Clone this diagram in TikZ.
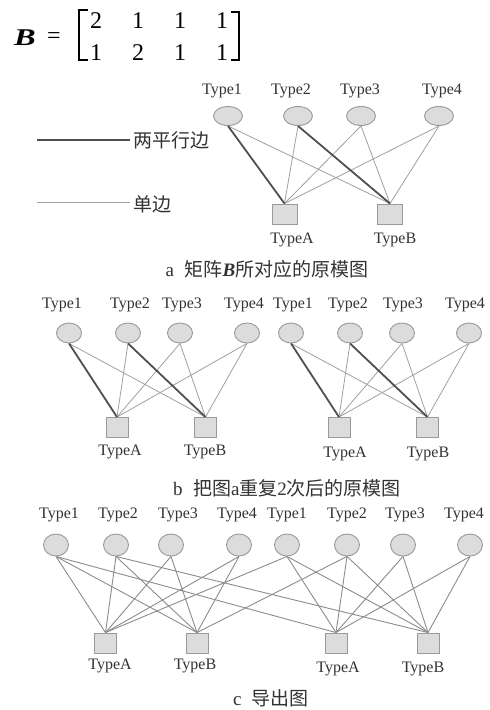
\documentclass[tikz,border=0pt]{standalone}
\usepackage{fontspec}
\setmainfont{Liberation Serif}
\newfontfamily\cjk{Noto Sans CJK SC}
\usetikzlibrary{shapes.geometric}
\definecolor{nfill}{HTML}{DCDCDC}
\definecolor{ndraw}{HTML}{9A9A9A}
\definecolor{thinc}{HTML}{A0A0A0}
\definecolor{thickc}{HTML}{505050}
\definecolor{cedge}{HTML}{8C8C8C}
\definecolor{txt}{HTML}{333333}
\tikzset{
  vn/.style={ellipse, draw=ndraw, fill=nfill, line width=0.9pt, inner sep=0pt},
  vna/.style={vn, minimum width=29pt, minimum height=19pt},
  vnb/.style={vn, minimum width=25pt, minimum height=20pt},
  vnc/.style={vn, minimum width=25pt, minimum height=22pt},
  sq/.style={rectangle, draw=ndraw, fill=nfill, line width=0.9pt, inner sep=0pt, minimum width=22pt, minimum height=20pt},
  sqa/.style={sq, minimum width=25pt},
  lbl/.style={text=txt, font=\fontsize{16}{18}\selectfont, inner sep=0pt},
  captxt/.style={text=txt, font=\fontsize{19}{21}\selectfont, inner sep=0pt},
  mx/.style={text=black, font=\fontsize{24}{26}\selectfont, inner sep=0pt},
  thinedge/.style={draw=thinc, line width=0.8pt},
  thickedge/.style={draw=thickc, line width=1.8pt},
  cedgest/.style={draw=cedge, line width=0.9pt},
}
\begin{document}
\begin{tikzpicture}[x=1pt,y=-1pt]
\useasboundingbox[fill=white] (0,0) rectangle (490,710);

% ---- matrix ----
\node[mx] (mB) at (25,37.5) {\scalebox{1.35}[1]{\bfseries\itshape B}};
\node[mx] (meq) at (54,38) {=};
\foreach \v [count=\k] in {2,1,1,1} {\node[mx] (r1\k) at (54+42*\k,21) {\v};}
\foreach \v [count=\k] in {1,2,1,1} {\node[mx] (r2\k) at (54+42*\k,53) {\v};}
\coordinate (lb1) at (88,10); \coordinate (lb2) at (79,10);
\coordinate (lb3) at (79,60); \coordinate (lb4) at (88,60);
\coordinate (rb1) at (231,12); \coordinate (rb2) at (239,12);
\coordinate (rb3) at (239,60); \coordinate (rb4) at (231,60);
\draw[line width=1.4pt] (lb1) -- (lb2) -- (lb3) -- (lb4);
\draw[line width=1.4pt] (rb1) -- (rb2) -- (rb3) -- (rb4);

% ---- legend ----
\coordinate (lg1) at (37,140); \coordinate (lg2) at (130,140);
\coordinate (lg3) at (37,202); \coordinate (lg4) at (130,202);
\draw[thickedge] (lg1) -- (lg2);
\draw[thinedge] (lg3) -- (lg4);
\node[captxt, anchor=west] (lgt1) at (133,140) {\cjk 两平行边};
\node[captxt, anchor=west] (lgt2) at (133,204) {\cjk 单边};

% ---- part a ----
\foreach \i/\x in {1/228,2/298,3/361,4/439} {\node[vna] (a\i) at (\x,116) {};}
\foreach \i/\x in {1/222,2/291,3/360,4/442} {\node[lbl] (al\i) at (\x,91) {Type\i};}
\node[sqa] (aA) at (284.5,214) {};
\node[sqa] (aB) at (390,214) {};
\node[lbl] (alA) at (292,240) {TypeA};
\node[lbl] (alB) at (395,240) {TypeB};
\draw[thinedge] (a1.south) -- (aB.north);
\draw[thinedge] (a2.south) -- (aA.north);
\draw[thinedge] (a3.south) -- (aA.north);
\draw[thinedge] (a3.south) -- (aB.north);
\draw[thinedge] (a4.south) -- (aA.north);
\draw[thinedge] (a4.south) -- (aB.north);
\draw[thickedge] (a1.south) -- (aA.north);
\draw[thickedge] (a2.south) -- (aB.north);
\node[captxt] (capa) at (267,269) {a\hspace{0.55em}{\cjk 矩阵}{\bfseries\itshape B}{\cjk 所对应的原模图}};

% ---- part b ----
\foreach \c/\dx in {L/0,R/222} {
  \foreach \i/\x in {1/69,2/128,3/180,4/247} {\node[vnb] (b\c\i) at (\x+\dx,333) {};}
  \node[sq] (b\c A) at (117+\dx,427.5) {};
  \node[sq] (b\c B) at (205.5+\dx,427.5) {};
  \draw[thinedge] (b\c1.south) -- (b\c B.north);
  \draw[thinedge] (b\c2.south) -- (b\c A.north);
  \draw[thinedge] (b\c3.south) -- (b\c A.north);
  \draw[thinedge] (b\c3.south) -- (b\c B.north);
  \draw[thinedge] (b\c4.south) -- (b\c A.north);
  \draw[thinedge] (b\c4.south) -- (b\c B.north);
  \draw[thickedge] (b\c1.south) -- (b\c A.north);
  \draw[thickedge] (b\c2.south) -- (b\c B.north);
}
\foreach \i/\x/\t in {1/62/1,2/130/2,3/182/3,4/244/4,5/293/1,6/348/2,7/403/3,8/465/4} {\node[lbl] (bl\i) at (\x,305) {Type\t};}
\node[lbl] (blLA) at (120,452) {TypeA};
\node[lbl] (blLB) at (205,452) {TypeB};
\node[lbl] (blRA) at (345,454) {TypeA};
\node[lbl] (blRB) at (428,454) {TypeB};
\node[captxt] (capb) at (287,488) {b\hspace{0.55em}{\cjk 把图}a{\cjk 重复}2{\cjk 次后的原模图}};

% ---- part c ----
\foreach \i/\x in {1/56,2/116,3/171,4/239,5/287,6/347,7/403,8/470} {\node[vnc] (c\i) at (\x,545) {};}
\foreach \i/\x/\t in {1/59/1,2/118/2,3/178/3,4/237/4,5/287/1,6/347/2,7/405/3,8/464/4} {\node[lbl] (cl\i) at (\x,515) {Type\t};}
\node[sq] (cA1) at (105.5,643) {};
\node[sq] (cB1) at (197,643) {};
\node[sq] (cA2) at (336,643) {};
\node[sq] (cB2) at (428,643) {};
\node[lbl] (clA1) at (110,666) {TypeA};
\node[lbl] (clB1) at (195,666) {TypeB};
\node[lbl] (clA2) at (338,669) {TypeA};
\node[lbl] (clB2) at (423,669) {TypeB};
\foreach \s/\t in {1/A1,1/B1,1/A2, 2/A1,2/B1,2/B2, 3/A1,3/B1, 4/A1,4/B1,
                   5/A2,5/B2,5/A1, 6/A2,6/B2,6/B1, 7/A2,7/B2, 8/A2,8/B2}
  {\draw[cedgest] (c\s.south) -- (c\t.north);}
\node[captxt] (capc) at (271,698) {c\hspace{0.55em}{\cjk 导出图}};
\end{tikzpicture}
\end{document}
